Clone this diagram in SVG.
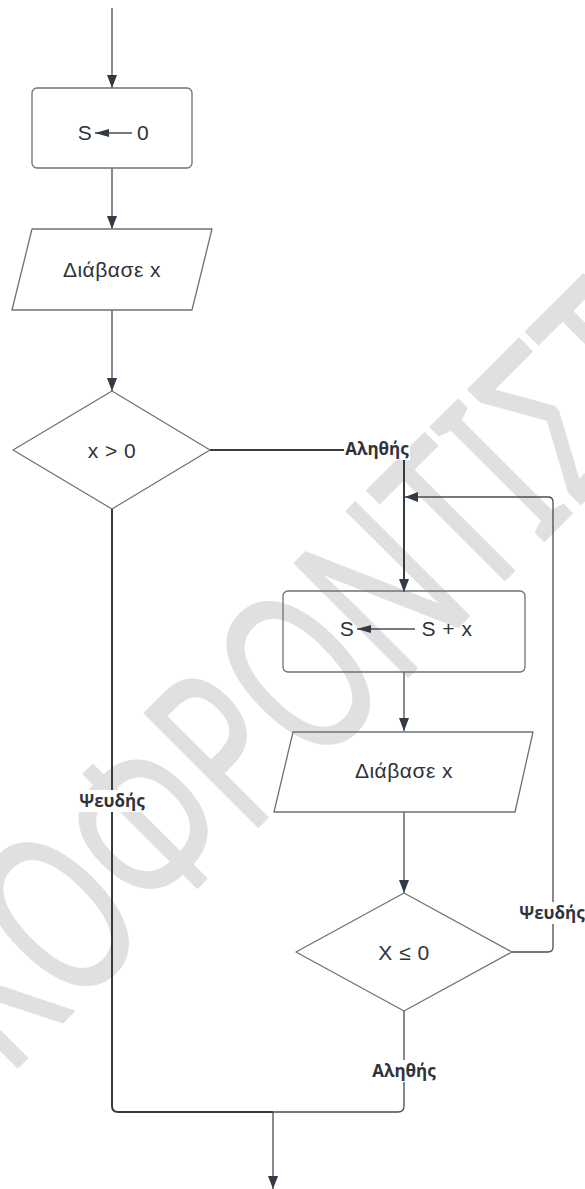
<svg xmlns="http://www.w3.org/2000/svg" width="585" height="1189" viewBox="0 0 585 1189">
<defs>
<style>
.node{fill:none;stroke:#6d7178;stroke-width:1.3;stroke-linejoin:round}
.conn{fill:none;stroke:#474d56;stroke-width:1.3}
.thick{stroke:#343b45;stroke-width:2}
.t{font-family:"Liberation Sans",Arial,sans-serif;font-size:21px;letter-spacing:0.5px;fill:#2f333a;text-anchor:middle}
.lbl{font-family:"Open Sans","Noto Sans",sans-serif;font-size:17px;font-weight:700;fill:#2f333a;text-anchor:middle}
.bg{fill:#ffffff}
.wm{font-family:"Noto Sans","DejaVu Sans",sans-serif;font-size:225px;fill:#e0e0e0;stroke:#e0e0e0;stroke-width:2;stroke-linejoin:round}
</style>
<marker id="ah" viewBox="0 0 13 10" refX="13" refY="5" markerWidth="13" markerHeight="10" markerUnits="userSpaceOnUse" orient="auto">
<path d="M0,0 L13,5 L0,10 Z" fill="#323a45"/>
</marker>
<marker id="ahs" viewBox="0 0 14 8" refX="14" refY="4" markerWidth="14" markerHeight="8" markerUnits="userSpaceOnUse" orient="auto">
<path d="M0,0 L14,4 L0,8 Z" fill="#323a45"/>
</marker>
</defs>
<rect width="585" height="1189" fill="#ffffff"/>
<g id="watermark">
<text class="wm" transform="translate(7,1078) rotate(-45) scale(0.68,1)">ΚΟΦΡΟΝΤΙΣΤ</text>
</g>
<g id="connectors">
<path class="conn" d="M112,8 V88" marker-end="url(#ah)"/>
<path class="conn" d="M112,168 V229" marker-end="url(#ah)"/>
<path class="conn" d="M112,310 V391" marker-end="url(#ah)"/>
<path class="conn thick" d="M210,450 H404 V592" marker-end="url(#ah)"/>
<path class="conn" d="M404,672 V731" marker-end="url(#ah)"/>
<path class="conn" d="M404,812 V893" marker-end="url(#ah)"/>
<path class="conn" d="M512,952 H548 Q553,952 553,947 V502 Q553,497 548,497 H405" marker-end="url(#ah)"/>
<path class="conn thick" d="M112,509 V1106 Q112,1112 118,1112 H273"/>
<path class="conn" d="M404,1011 V1106 Q404,1112 398,1112 H273"/>
<path class="conn" d="M273,1112 V1189" marker-end="url(#ah)"/>
<rect class="bg" x="344" y="438" width="66" height="22"/>
<text class="lbl" x="377" y="455">Αληθής</text>
<rect class="bg" x="78" y="790" width="68" height="22"/>
<text class="lbl" x="112" y="807">Ψευδής</text>
<rect class="bg" x="518" y="902" width="67" height="22"/>
<text class="lbl" x="552" y="919">Ψευδής</text>
<rect class="bg" x="370" y="1060" width="67" height="22"/>
<text class="lbl" x="404" y="1077">Αληθής</text>
</g>
<g id="n1">
<rect class="node" x="32" y="88" width="160" height="80" rx="5"/>
<text class="t" x="85" y="140">S</text>
<path class="conn" d="M132,133 H95" stroke-width="1" marker-end="url(#ahs)"/>
<text class="t" x="143" y="140">0</text>
</g>
<g id="n2">
<path class="node" d="M32,229 H212 L192,310 H12 Z"/>
<text class="t" x="112" y="277">Διάβασε x</text>
</g>
<g id="n3">
<path class="node" d="M112,391 L210,450 L112,509 L13,450 Z"/>
<text class="t" x="112" y="458">x &gt; 0</text>
</g>
<g id="n4">
<rect class="node" x="283" y="591" width="242" height="81" rx="5"/>
<text class="t" x="347" y="636">S</text>
<path class="conn" d="M415,629 H357" stroke-width="1" marker-end="url(#ahs)"/>
<text class="t" x="447" y="636">S + x</text>
</g>
<g id="n5">
<path class="node" d="M293,732 H533 L515,812 H274 Z"/>
<text class="t" x="404" y="778">Διάβασε x</text>
</g>
<g id="n6">
<path class="node" d="M404,893 L512,952 L404,1011 L296,952 Z"/>
<text class="t" x="404" y="960">X ≤ 0</text>
</g>
</svg>
